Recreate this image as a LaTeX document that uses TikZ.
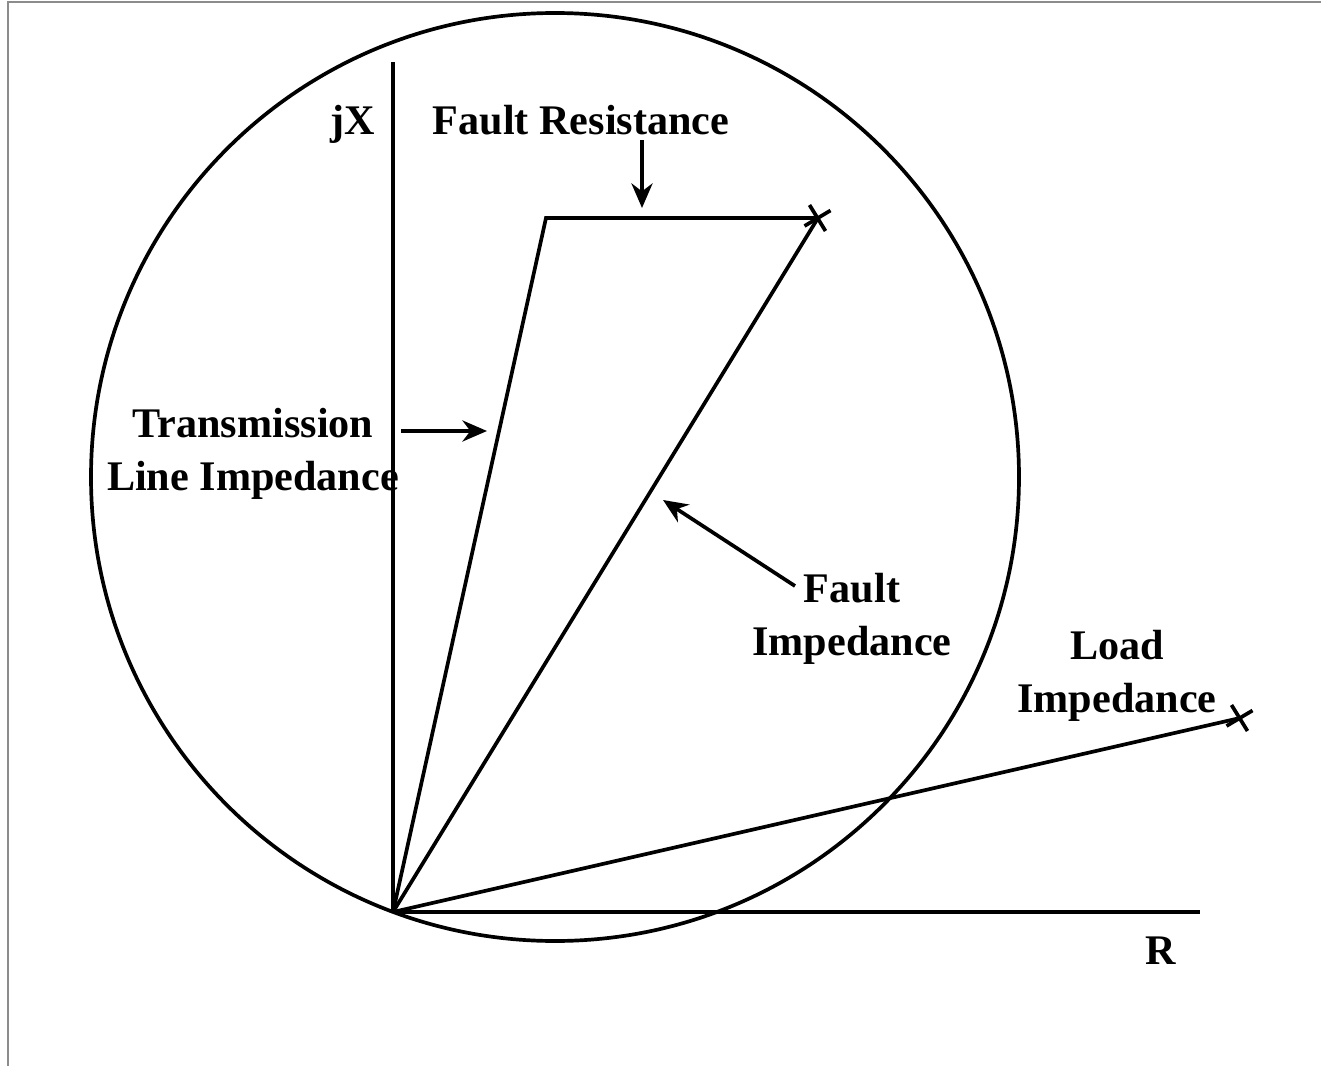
\documentclass[tikz,border=0pt]{standalone}
\usepackage{fontspec}
\setmainfont{Liberation Serif}
\usetikzlibrary{arrows.meta, calc}
\definecolor{framegray}{HTML}{8C8C8C}

\begin{document}
\begin{tikzpicture}[
    line width=2.1pt,
    pointer/.style={
        line width=2.1pt,
        -{Stealth[length=14pt, width=12pt]},
    },
    lbl/.style={
        font=\fontsize{24}{30}\selectfont\bfseries,
        align=center,
        inner sep=0pt,
    },
    xmark/.pic={
        \draw[line width=2.1pt] (-0.17,0.26) -- (0.15,-0.26);
        \draw[line width=2.1pt] (0.25,0.15) -- (-0.27,-0.16);
    },
]

% page size and the cropped frame (top and left edge only)
\useasboundingbox (-7.86,-3.08) rectangle (18.56,18.24);
\draw[framegray, line width=1.4pt] (-7.7,-3.08) -- (-7.7,18.2) -- (18.56,18.2);

% =============================================
% KEY POINTS – origin, axis ends, impedance tips
% =============================================
\coordinate (O)    at (0,0);
\coordinate (xtop) at (0,17.0);
\coordinate (rend) at (16.14,0);
\coordinate (tl)   at (3.06,13.88);
\coordinate (fz)   at (8.5,13.88);
\coordinate (ld)   at (16.94,3.88);

% Relay characteristic circle – goes through the origin
\draw (3.24,8.70) circle (9.28);

% Axes
\draw (O) -- (xtop);
\draw (O) -- (rend);

% Impedance triangle
\draw (O) -- (tl) -- (fz);
\draw (O) -- (fz);

% Load impedance
\draw (O) -- (ld);

% Fault and load points
\pic at (fz) {xmark};
\pic at (ld) {xmark};

% =============================================
% LABELS
% =============================================
\node[lbl, anchor=base] (jx) at (-0.8,15.54) {jX};
\node[lbl, anchor=base] (fr) at (3.76,15.54) {Fault Resistance};
\node[lbl] (tli) at (-2.8,9.17) {Transmission\\Line Impedance};
\node[lbl] (fi)  at (9.18,5.87) {Fault\\Impedance};
\node[lbl] (li)  at (14.48,4.73) {Load\\Impedance};
\node[lbl, anchor=base] (r) at (15.36,-1.04) {R};

% =============================================
% POINTERS
% =============================================
\coordinate (frA) at (4.98,15.44);
\coordinate (frB) at (4.98,14.08);
\draw[pointer] (frA) -- (frB);

\coordinate (tlA) at (0.16,9.62);
\coordinate (tlB) at (1.88,9.62);
\draw[pointer] (tlA) -- (tlB);

\coordinate (fiA) at (8.04,6.52);
\coordinate (fiB) at (5.4,8.24);
\draw[pointer] (fiA) -- (fiB);

\end{tikzpicture}
\end{document}
